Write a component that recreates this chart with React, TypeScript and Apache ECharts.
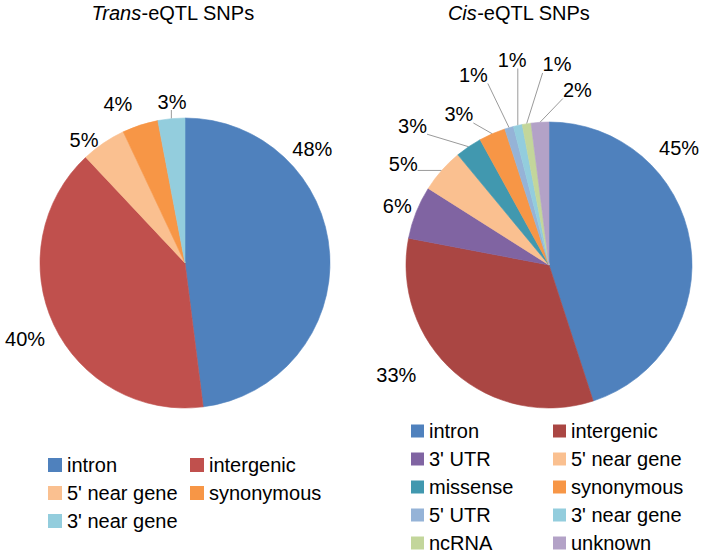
import React, { useEffect, useRef } from 'react';
import * as echarts from 'echarts';

// ---------- data ----------
const transCategories = ['intron', 'intergenic', "5' near gene", 'synonymous', "3' near gene"];
const transValues = [48, 40, 5, 4, 3];

const cisCategories = ['intron', 'intergenic', "3' UTR", "5' near gene", 'missense', 'synonymous', "5' UTR", "3' near gene", 'ncRNA', 'unknown'];
const cisValues = [45, 33, 6, 5, 3, 3, 1, 1, 1, 2];

const transTitle = '{i|Trans}-eQTL SNPs';
const cisTitle = '{i|Cis}-eQTL SNPs';

// ---------- styles / layout ----------
const transColors = ['#4F81BD', '#C0504D', '#FAC090', '#F79646', '#93CDDD'];
const cisColors = ['#4F81BD', '#AA4643', '#8064A2', '#FAC090', '#4198AF', '#F79646', '#95B3D7', '#93CDDD', '#C3D69B', '#B3A2C7'];

const FONT = "'Liberation Sans', Arial, Helvetica, sans-serif";

const TRANS_GEOM = { cx: 185, cy: 263, r: 145 };
const CIS_GEOM = { cx: 549, cy: 265, r: 143 };

// label placement: [angle in degrees clockwise from 12 o'clock, distance from centre in px]
const transLabelPolar = [[48.1, 171], [244.6, 177], [320.6, 159], [337.1, 172.5], [355.4, 162]];
const cisLabelPolar = [[48.0, 175], [234.3, 188], [291.4, 163], [304.6, 177], [315.6, 195], [329.1, 175.4], [338.3, 204.5], [349.8, 208.3], [2.3, 200.7], [9.2, 177.3]];
const transLeader = [false, false, false, false, true];
const cisLeader = [false, false, false, true, true, true, true, true, true, true];

function makeLabelLayout(geom: any, values: number[], polar: number[][], leader: boolean[]) {
  const total = values.reduce((a, b) => a + b, 0);
  return (p: any) => {
    const i = p.dataIndex;
    const [ang, dist] = polar[i];
    const a = (ang * Math.PI) / 180;
    const x = geom.cx + dist * Math.sin(a);
    const y = geom.cy - dist * Math.cos(a);
    const out: any = { x, y, align: 'center', verticalAlign: 'middle' };
    if (leader[i]) {
      const before = values.slice(0, i).reduce((s, v) => s + v, 0);
      const mid = ((before + values[i] / 2) / total) * 2 * Math.PI;
      const ax = geom.cx + geom.r * Math.sin(mid);
      const ay = geom.cy - geom.r * Math.cos(mid);
      const w = p.labelRect ? p.labelRect.width : 28;
      const h = 15;
      const sx = Math.min(Math.max(ax, x - w / 2), x + w / 2);
      const sy = Math.min(Math.max(ay, y - h / 2 - 1), y + h / 2 + 1);
      out.labelLinePoints = [[sx, sy], [sx, sy], [ax, ay]];
    }
    return out;
  };
}

function pieSeries(geom: any, cats: string[], vals: number[], colors: string[], polar: number[][], leader: boolean[]) {
  return {
    type: 'pie',
    center: [geom.cx, geom.cy],
    radius: geom.r,
    startAngle: 90,
    clockwise: true,
    avoidLabelOverlap: false,
    silent: true,
    data: cats.map((name, i) => ({
      name,
      value: vals[i],
      itemStyle: { color: colors[i], borderColor: colors[i], borderWidth: 0.6 },
      labelLine: { show: leader[i] },
    })),
    label: {
      show: true,
      position: 'outside',
      formatter: (p: any) => p.value + '%',
      fontFamily: FONT,
      fontSize: 20,
      color: '#000',
      overflow: 'none',
    },
    labelLine: {
      show: true,
      length: 10,
      length2: 5,
      lineStyle: { color: '#9a9a9a', width: 1 },
    },
    labelLayout: makeLabelLayout(geom, vals, polar, leader),
  };
}

function legendCol(names: string[], allNames: string[], colors: string[], left: number, top: number, size: number) {
  return {
    orient: 'vertical',
    left,
    top,
    padding: 0,
    itemGap: 6,
    itemWidth: size,
    itemHeight: size,
    selectedMode: false,
    icon: 'rect',
    textStyle: { fontFamily: FONT, fontSize: 20, color: '#000', lineHeight: 22 },
    data: names.map((n) => ({ name: n, itemStyle: { color: colors[allNames.indexOf(n)], borderWidth: 0 } })),
  };
}

export default function App() {
  const ref = useRef<HTMLDivElement>(null);
  useEffect(() => {
    if (!ref.current) return;
    const chart = echarts.init(ref.current, undefined, { renderer: 'svg' });
    const titleStyle = (x: number, text: string) => ({
      text,
      left: x,
      top: 2,
      padding: 0,
      textAlign: 'center',
      textStyle: {
        fontFamily: FONT,
        fontSize: 20,
        fontWeight: 'normal',
        color: '#000',
        lineHeight: 22,
        rich: {
          i: { fontFamily: FONT, fontSize: 20, fontStyle: 'italic', color: '#000', lineHeight: 22 },
        },
      },
    });
    chart.setOption({
      animation: false,
      backgroundColor: '#ffffff',
      title: [titleStyle(173, transTitle), titleStyle(519, cisTitle)],
      legend: [
        legendCol(['intron', "5' near gene", "3' near gene"], transCategories, transColors, 48, 454, 14),
        legendCol(['intergenic', 'synonymous'], transCategories, transColors, 190, 454, 14),
        legendCol(['intron', "3' UTR", 'missense', "5' UTR", 'ncRNA'], cisCategories, cisColors, 411, 420, 13),
        legendCol(['intergenic', "5' near gene", 'synonymous', "3' near gene", 'unknown'], cisCategories, cisColors, 553, 420, 13),
      ],
      series: [
        pieSeries(TRANS_GEOM, transCategories, transValues, transColors, transLabelPolar, transLeader),
        pieSeries(CIS_GEOM, cisCategories, cisValues, cisColors, cisLabelPolar, cisLeader),
      ],
    });
    return () => chart.dispose();
  }, []);
  return (
    <div
      ref={ref}
      style={{ position: 'fixed', left: 0, top: 0, width: 709, height: 558, background: '#fff' }}
    />
  );
}
